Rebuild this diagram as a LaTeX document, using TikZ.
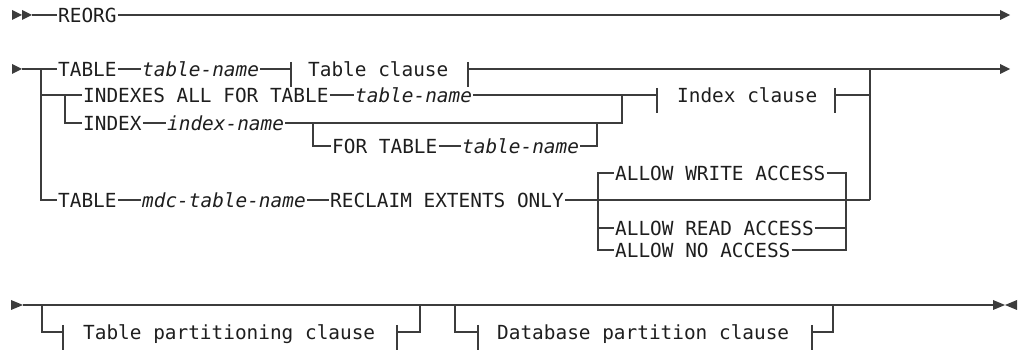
\documentclass[tikz,border=0pt]{standalone}
\usepackage{fontspec}
\setmonofont{DejaVu Sans Mono}
\usetikzlibrary{calc}
\definecolor{railgray}{HTML}{3C3C3C}
\definecolor{darktext}{HTML}{1E1E1E}
\tikzset{
  rail/.style={draw=railgray, line width=1.1pt},
  kw/.style={anchor=west, inner xsep=1pt, inner ysep=0pt, text height=14.2pt, text depth=0pt,
    text=darktext, font=\ttfamily\fontsize{19.4}{20}\selectfont},
  var/.style={kw, font=\ttfamily\itshape\fontsize{19.4}{20}\selectfont},
}
% small bar where a clause is entered or left
\newcommand\railtick[1]{\draw[rail] ([yshift=7pt]#1) -- ([yshift=-18pt]#1);}

\begin{document}
\begin{tikzpicture}[x=1pt,y=-1pt]
\useasboundingbox (0,0) rectangle (1018,352);

% REORG
\fill[railgray] (12,10) -- (22,15) -- (12,20) -- cycle;
\fill[railgray] (22,10) -- (32,15) -- (22,20) -- cycle;
\coordinate (s1) at (32,15);
\node[kw] (reorg) at (57,15) {REORG};
\coordinate (e1) at (1000,15);
\fill[railgray] (1000,10) -- (1010,15) -- (1000,20) -- cycle;
\draw[rail] (s1) -- (reorg.west);
\draw[rail] (reorg.east) -- (e1);

% TABLE ... Table clause
\fill[railgray] (12,64) -- (22,69) -- (12,74) -- cycle;
\coordinate (s2) at (22,69);
\coordinate (b2) at (41,69);
\node[kw] (tbl) at (57,69) {TABLE};
\node[var] (tname) at (141,69) {table-name};
\coordinate (tcl) at (291,69);
\node[kw] (tclause) at (307,69) {Table clause};
\coordinate (tcr) at (468,69);
\coordinate (j2) at (870,69);
\coordinate (e2) at (1000,69);
\fill[railgray] (1000,64) -- (1010,69) -- (1000,74) -- cycle;
\draw[rail] (s2) -- (tbl.west);
\draw[rail] (tbl.east) -- (tname.west);
\draw[rail] (tname.east) -- (tcl);
\railtick{tcl}
\railtick{tcr}
\draw[rail] (tcr) -- (e2);

% INDEXES ALL / INDEX ... Index clause
\coordinate (b3) at (41,95);
\coordinate (b4) at (65,95);
\node[kw] (idxall) at (82,95) {INDEXES ALL FOR TABLE};
\node[var] (tname2) at (354,95) {table-name};
\coordinate (m3) at (622,95);
\coordinate (icl) at (657,95);
\node[kw] (iclause) at (676,95) {Index clause};
\coordinate (icr) at (835,95);
\coordinate (j3) at (870,95);
\draw[rail] (b3) -- (idxall.west);
\draw[rail] (idxall.east) -- (tname2.west);
\draw[rail] (tname2.east) -- (icl);
\railtick{icl}
\railtick{icr}
\draw[rail] (icr) -- (j3);

\node[kw] (idx) at (82,123) {INDEX};
\node[var] (iname) at (166,123) {index-name};
\draw[rail] (b4) |- (idx.west);
\draw[rail] (idx.east) -- (iname.west);
\draw[rail] (iname.east) -| (m3);

% optional FOR TABLE
\coordinate (f1) at (313,123);
\coordinate (f2) at (597,123);
\node[kw] (fortbl) at (331,146) {FOR TABLE};
\node[var] (tname3) at (461,146) {table-name};
\draw[rail] (f1) |- (fortbl.west);
\draw[rail] (fortbl.east) -- (tname3.west);
\draw[rail] (tname3.east) -| (f2);

% TABLE mdc-table-name RECLAIM EXTENTS ONLY
\coordinate (j5) at (870,200);
\node[kw] (tbl2) at (57,200) {TABLE};
\node[var] (mdc) at (141,200) {mdc-table-name};
\node[kw] (reclaim) at (329,200) {RECLAIM EXTENTS ONLY};
\draw[rail] (b2) |- (tbl2.west);
\draw[rail] (tbl2.east) -- (mdc.west);
\draw[rail] (mdc.east) -- (reclaim.west);
\draw[rail] (reclaim.east) -- (j5);
\draw[rail] (j2) -- (j5);

% access choices
\coordinate (a1) at (598,200);
\coordinate (a2) at (846,200);
\node[kw] (write) at (614,173) {ALLOW WRITE ACCESS};
\node[kw] (read) at (614,228) {ALLOW READ ACCESS};
\node[kw] (noacc) at (614,250) {ALLOW NO ACCESS};
\draw[rail] (a1) |- (write.west);
\draw[rail] (a1) |- (read.west);
\draw[rail] (a1) |- (noacc.west);
\draw[rail] (write.east) -| (a2);
\draw[rail] (read.east) -| (a2);
\draw[rail] (noacc.east) -| (a2);

% partition clauses
\fill[railgray] (11,300) -- (23,305) -- (11,310) -- cycle;
\coordinate (s3) at (23,305);
\coordinate (e3) at (993,305);
\fill[railgray] (993,300) -- (1005,305) -- (993,310) -- cycle;
\fill[railgray] (1017,300) -- (1005,305) -- (1017,310) -- cycle;
\draw[rail] (s3) -- (e3);

\coordinate (p1) at (42,305);
\coordinate (pl) at (63,332);
\node[kw] (tpart) at (82,332) {Table partitioning clause};
\coordinate (pr) at (397,332);
\coordinate (p2) at (420,305);
\draw[rail] (p1) |- (pl);
\railtick{pl}
\railtick{pr}
\draw[rail] (pr) -| (p2);

\coordinate (d1) at (455,305);
\coordinate (dl) at (478,332);
\node[kw] (dbpart) at (496,332) {Database partition clause};
\coordinate (dr) at (812,332);
\coordinate (d2) at (833,305);
\draw[rail] (d1) |- (dl);
\railtick{dl}
\railtick{dr}
\draw[rail] (dr) -| (d2);
\end{tikzpicture}
\end{document}
